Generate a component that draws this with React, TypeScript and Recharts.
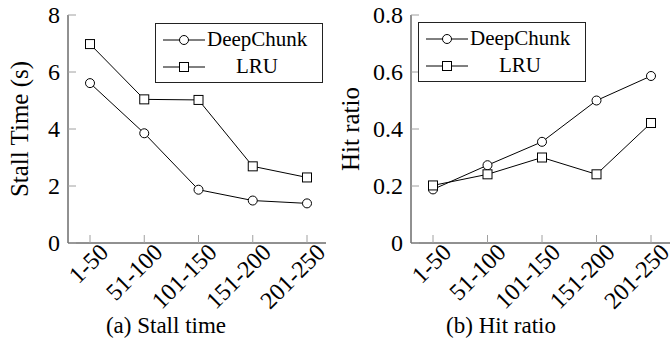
import { LineChart, Line, XAxis, YAxis, Legend } from "recharts"

const ranges = ["1-50", "51-100", "101-150", "151-200", "201-250"]
const stallDeepChunk = [5.61, 3.85, 1.87, 1.49, 1.39]
const stallLru = [6.98, 5.04, 5.02, 2.69, 2.3]
const hitDeepChunk = [0.188, 0.273, 0.355, 0.5, 0.586]
const hitLru = [0.202, 0.241, 0.3, 0.241, 0.421]
const stallTicks = [0, 2, 4, 6, 8]
const hitTicks = [0, 0.2, 0.4, 0.6, 0.8]
const seriesNames = ["DeepChunk", "LRU"]

const font = "'Liberation Serif', 'Times New Roman', serif"
const frame = "#222"
const tickGray = "#a0a0a0"
const tickLen = 8

const circleDot = (p: any) => (
    <circle key={`c${p.index}`} cx={p.cx} cy={p.cy} r={4.5} fill="#fff" stroke="#000" strokeWidth={1} />
)
const squareDot = (p: any) => (
    <rect key={`s${p.index}`} x={p.cx - 4.5} y={p.cy - 4.5} width={9} height={9} fill="#fff" stroke="#000" strokeWidth={1} />
)

function BottomTick({ x, y, payload }: any) {
    const ax = x + 14
    const ay = y + 5
    return (
        <g>
            <line x1={x} y1={y} x2={x} y2={y - tickLen} stroke={tickGray} />
            <text x={ax} y={ay} textAnchor="end" dominantBaseline="central" transform={`rotate(-45, ${ax}, ${ay})`}
                fontFamily={font} fontSize={24} fill="#000">{payload.value}</text>
        </g>
    )
}

function TopTick({ x, y }: any) {
    return <line x1={x} y1={y} x2={x} y2={y + tickLen} stroke={tickGray} />
}

function LeftTick({ x, y, payload }: any) {
    return (
        <g>
            <line x1={x} y1={y} x2={x + tickLen} y2={y} stroke={tickGray} />
            <text x={x - 8} y={y} dy="0.35em" textAnchor="end" fontFamily={font} fontSize={24} fill="#000">{payload.value}</text>
        </g>
    )
}

function RightTick({ x, y }: any) {
    return <line x1={x} y1={y} x2={x - tickLen} y2={y} stroke={tickGray} />
}

function YLabel({ viewBox, text, x0 }: any) {
    const cy = viewBox ? viewBox.y + viewBox.height / 2 : 129
    return (
        <text x={x0} y={cy} transform={`rotate(-90, ${x0}, ${cy})`} textAnchor="middle" dominantBaseline="central"
            fontFamily={font} fontSize={25} fill="#000">{text}</text>
    )
}

function LegendBox({ payload, lineX, textW }: any) {
    return (
        <div style={{ border: `1px solid ${frame}`, background: "#fff", padding: "2px 0", fontFamily: font, fontSize: 21 }}>
            {(payload || []).map((e: any) => (
                <div key={e.value} style={{ display: "flex", alignItems: "center", height: 27 }}>
                    <svg width={lineX + 44} height={20}>
                        <line x1={lineX} y1={10} x2={lineX + 42} y2={10} stroke="#000" />
                        {e.value === "DeepChunk"
                            ? <circle cx={lineX + 21} cy={10} r={4.5} fill="#fff" stroke="#000" />
                            : <rect x={lineX + 16.5} y={5.5} width={9} height={9} fill="#fff" stroke="#000" />}
                    </svg>
                    <span style={{ width: textW, textAlign: "center" }}>{e.value}</span>
                </div>
            ))}
        </div>
    )
}

function Panel({ a, b, ticks, yLabel, caption, left, width, axisW, marginRight, pad, labelX, legendPos, captionX }: any) {
    const data = ranges.map((r, i) => ({ range: r, [seriesNames[0]]: a[i], [seriesNames[1]]: b[i] }))
    return (
        <div style={{ position: "absolute", left, top: 0, width, height: 341 }}>
            <LineChart width={width} height={341} data={data} margin={{ top: 15, right: marginRight, bottom: 0, left: 0 }}>
                <XAxis dataKey="range" height={98} padding={pad} interval={0} tickSize={0} tickMargin={0}
                    axisLine={{ stroke: frame }} tickLine={false} tick={<BottomTick />} />
                <XAxis xAxisId="top" orientation="top" dataKey="range" height={0} padding={pad} interval={0}
                    tickSize={0} tickMargin={0} axisLine={{ stroke: frame }} tickLine={false} tick={<TopTick />} />
                <YAxis width={axisW} domain={[ticks[0], ticks[ticks.length - 1]]} ticks={ticks} interval={0}
                    tickSize={0} tickMargin={0} axisLine={{ stroke: frame }} tickLine={false}
                    tick={<LeftTick />} label={<YLabel text={yLabel} x0={labelX} />} />
                <YAxis yAxisId="r" orientation="right" width={0} domain={[ticks[0], ticks[ticks.length - 1]]} ticks={ticks}
                    interval={0} tickSize={0} tickMargin={0} axisLine={{ stroke: frame }} tickLine={false} tick={<RightTick />} />
                <Legend verticalAlign="middle" align="center" layout="horizontal"
                    wrapperStyle={{ left: legendPos.x, top: legendPos.y, width: legendPos.w }}
                    content={(p: any) => <LegendBox payload={p.payload} lineX={legendPos.lineX} textW={legendPos.textW} />} />
                <Line dataKey={seriesNames[0]} stroke="#000" strokeWidth={1} dot={circleDot} isAnimationActive={false} />
                <Line dataKey={seriesNames[1]} stroke="#000" strokeWidth={1} dot={squareDot} isAnimationActive={false} />
            </LineChart>
            <div style={{ position: "absolute", left: captionX - 100, width: 200, top: 313, textAlign: "center", fontFamily: font, fontSize: 23 }}>
                {caption}
            </div>
        </div>
    )
}

export default function App() {
    return (
        <div style={{ position: "absolute", left: 0, top: 0, width: 670, height: 341, overflow: "hidden", background: "#fff" }}>
            <Panel a={stallDeepChunk} b={stallLru} ticks={stallTicks} yLabel="Stall Time (s)" caption="(a) Stall time"
                left={0} width={335} axisW={68} marginRight={9} pad={{ left: 22, right: 19 }} labelX={19}
                legendPos={{ x: 155, y: 23, w: 168, lineX: 7, textW: 100 }} captionX={166} />
            <Panel a={hitDeepChunk} b={hitLru} ticks={hitTicks} yLabel="Hit ratio" caption="(b) Hit ratio"
                left={335} width={340} axisW={76} marginRight={3} pad={{ left: 22, right: 21 }} labelX={15}
                legendPos={{ x: 83, y: 22, w: 168, lineX: 7, textW: 100 }} captionX={166} />
        </div>
    )
}
